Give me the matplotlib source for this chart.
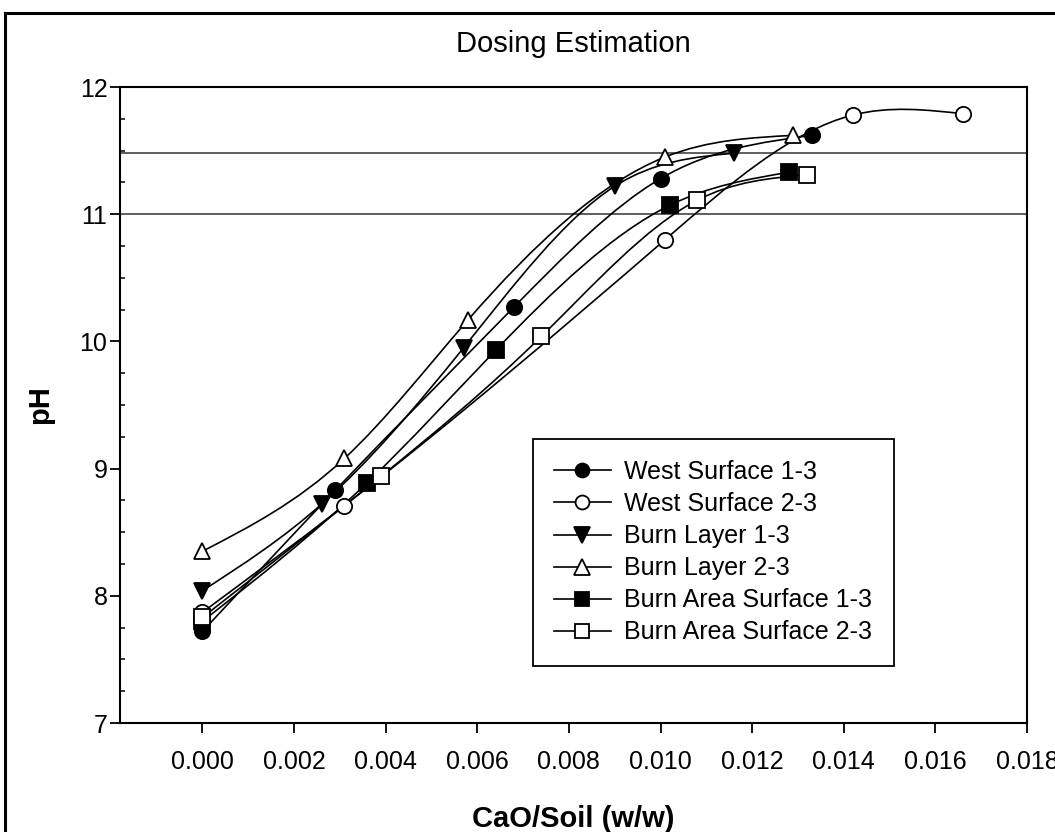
import numpy as np
import matplotlib
matplotlib.use("Agg")
import matplotlib.pyplot as plt
from matplotlib.path import Path
from matplotlib.patches import PathPatch, Rectangle
from matplotlib.lines import Line2D
from matplotlib.ticker import AutoMinorLocator

plt.rcParams['font.family'] = ['Liberation Sans', 'DejaVu Sans']

# CaO/Soil (w/w) vs pH
west1_x = [0.0, 0.0029, 0.0068, 0.0100, 0.0133]
west1_y = [7.72, 8.83, 10.27, 11.28, 11.62]
west2_x = [0.0, 0.0031, 0.0101, 0.0142, 0.0166]
west2_y = [7.87, 8.71, 10.80, 11.78, 11.79]
burn1_x = [0.0, 0.0026, 0.0057, 0.0090, 0.0116]
burn1_y = [8.04, 8.72, 9.95, 11.22, 11.48]
burn2_x = [0.0, 0.0031, 0.0058, 0.0101, 0.0129]
burn2_y = [8.35, 9.08, 10.17, 11.45, 11.62]
area1_x = [0.0, 0.0036, 0.0064, 0.0102, 0.0128]
area1_y = [7.80, 8.89, 9.93, 11.07, 11.33]
area2_x = [0.0, 0.0039, 0.0074, 0.0108, 0.0132]
area2_y = [7.83, 8.94, 10.04, 11.11, 11.31]

labels = ["West Surface 1-3", "West Surface 2-3", "Burn Layer 1-3",
          "Burn Layer 2-3", "Burn Area Surface 1-3", "Burn Area Surface 2-3"]
target_ph = [11.0, 11.48]
x_ticks = [0.000, 0.002, 0.004, 0.006, 0.008, 0.010, 0.012, 0.014, 0.016, 0.018]
y_ticks = [7, 8, 9, 10, 11, 12]


def spline_path(x, y):
    # natural cubic spline, written as bezier segments
    x = np.asarray(x, float)
    y = np.asarray(y, float)
    n = len(x)
    h = np.diff(x)
    A = np.zeros((n, n))
    b = np.zeros(n)
    A[0, 0] = A[-1, -1] = 1
    for i in range(1, n - 1):
        A[i, i - 1] = h[i - 1]
        A[i, i] = 2 * (h[i - 1] + h[i])
        A[i, i + 1] = h[i]
        b[i] = 3 * ((y[i + 1] - y[i]) / h[i] - (y[i] - y[i - 1]) / h[i - 1])
    c = np.linalg.solve(A, b)
    m = np.zeros(n)
    for i in range(n - 1):
        m[i] = (y[i + 1] - y[i]) / h[i] - h[i] * (2 * c[i] + c[i + 1]) / 3
    m[-1] = m[-2] + h[-1] * (c[-2] + c[-1])

    verts = [(x[0], y[0])]
    codes = [Path.MOVETO]
    for i in range(n - 1):
        verts += [(x[i] + h[i] / 3, y[i] + m[i] * h[i] / 3),
                  (x[i + 1] - h[i] / 3, y[i + 1] - m[i + 1] * h[i] / 3),
                  (x[i + 1], y[i + 1])]
        codes += [Path.CURVE4] * 3
    return Path(verts, codes)


fig = plt.figure(figsize=(10.55, 8.32), dpi=100)
ax = fig.add_axes([0.1137, 0.131, 0.8598, 0.7644])

series = [
    (west1_x, west1_y, 'o', 'black'),
    (west2_x, west2_y, 'o', 'white'),
    (burn1_x, burn1_y, 'v', 'black'),
    (burn2_x, burn2_y, '^', 'white'),
    (area1_x, area1_y, 's', 'black'),
    (area2_x, area2_y, 's', 'white'),
]

for yv in target_ph:
    ax.axhline(yv, color='#333333', lw=1.1, zorder=1)

handles = []
for (xs, ys, mk, fc), lab in zip(series, labels):
    ax.add_patch(PathPatch(spline_path(xs, ys), facecolor='none',
                           edgecolor='black', lw=1.2, zorder=2))
    ms = 11 if mk in 'os' else 12
    ax.plot(xs, ys, ls='none', marker=mk, ms=ms, mfc=fc, mec='black',
            mew=1.3, zorder=3)
    handles.append(Line2D([], [], color='black', lw=1.2, marker=mk, ms=ms - 1,
                          mfc=fc, mec='black', mew=1.3, label=lab))

ax.set_xlim(-0.0018, 0.018)
ax.set_ylim(7, 12)
ax.set_xticks(x_ticks)
ax.set_xticklabels([f"{v:.3f}" for v in x_ticks])
ax.set_yticks(y_ticks)
ax.yaxis.set_minor_locator(AutoMinorLocator(4))

ax.tick_params(axis='x', which='major', direction='out', length=7.5, width=1.3,
               labelsize=18, pad=12)
ax.tick_params(axis='y', which='major', direction='out', length=7, width=1.3,
               labelsize=18, pad=2)
ax.tick_params(axis='y', which='minor', direction='in', length=3.5, width=1.1)
for sp in ax.spines.values():
    sp.set_linewidth(1.5)

ax.set_title("Dosing Estimation", fontsize=21, pad=25)
ax.set_xlabel("CaO/Soil (w/w)", fontsize=21, fontweight='bold', labelpad=22)
ax.set_ylabel("pH", fontsize=21, fontweight='bold', labelpad=18)

leg = ax.legend(handles=handles, loc='upper left',
                bbox_to_anchor=(533 / 1055, 1 - 439 / 832),
                bbox_transform=fig.transFigure, fontsize=18, frameon=True,
                fancybox=False, edgecolor='black', framealpha=1,
                handlelength=2.25, handletextpad=0.55, labelspacing=0.32,
                borderpad=0.85, borderaxespad=0)
leg.get_frame().set_linewidth(1.3)

# outer frame round the whole figure (cut at right and bottom in the original)
fig.patches.append(Rectangle((5 / 1055, -0.05), 1.2, 1 - 13 / 832 + 0.05,
                             transform=fig.transFigure, fill=False,
                             edgecolor='black', lw=2.2))

fig.savefig("out.png", dpi=100)
